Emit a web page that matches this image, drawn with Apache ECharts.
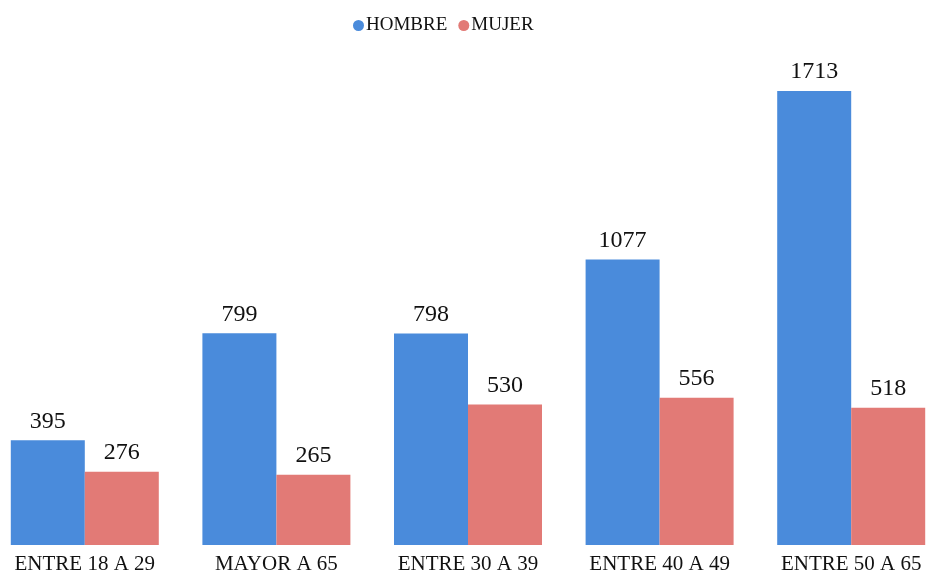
<!DOCTYPE html>
<html>
<head>
<meta charset="utf-8">
<script src="https://cdn.jsdelivr.net/npm/echarts@6/dist/echarts.min.js"></script>
<style>
  html, body { margin: 0; padding: 0; background: #fff; overflow: hidden; }
  /* the plot runs a little past both page edges, like the source image */
  #chart { width: 958px; height: 575px; margin-left: -11px; }
</style>
</head>
<body>
<div id="chart"></div>
<script>
var categories = ['ENTRE 18 A 29', 'MAYOR A 65', 'ENTRE 30 A 39', 'ENTRE 40 A 49', 'ENTRE 50 A 65']
var hombre = [395, 799, 798, 1077, 1713]
var mujer = [276, 265, 530, 556, 518]

var myChart = echarts.init(document.getElementById('chart'))
var serif = '"Liberation Serif", "DejaVu Serif", serif'
var option = {
  animation: false,
  legend: {
    top: 11,
    left: 359,
    icon: 'circle',
    itemWidth: 11,
    itemHeight: 11,
    itemGap: 11,
    textStyle: { fontFamily: serif, fontSize: 19, color: '#111', padding: [0, 0, 0, -3] },
    data: ['HOMBRE', 'MUJER']
  },
  grid: {
    left: 0,
    right: 0,
    top: 15,
    bottom: 29,
    containLabel: false
  },
  xAxis: {
    type: 'category',
    data: categories,
    axisLine: { show: false },
    axisTick: { show: false },
    axisLabel: {
      fontFamily: serif,
      fontSize: 21,
      color: '#111',
      margin: 9
    }
  },
  yAxis: {
    type: 'value',
    min: 0,
    max: 2000,
    show: false,
    splitLine: { show: false }
  },
  series: [
    {
      name: 'HOMBRE',
      type: 'bar',
      data: hombre,
      barWidth: 74,
      barGap: 0,
      itemStyle: { color: '#4a8bdb' },
      label: {
        show: true,
        position: 'top',
        distance: 7,
        fontFamily: serif,
        fontSize: 24,
        color: '#111'
      }
    },
    {
      name: 'MUJER',
      type: 'bar',
      data: mujer,
      barWidth: 74,
      barGap: 0,
      itemStyle: { color: '#e27a76' },
      label: {
        show: true,
        position: 'top',
        distance: 7,
        fontFamily: serif,
        fontSize: 24,
        color: '#111'
      }
    }
  ]
}
myChart.setOption(option)
</script>
</body>
</html>
